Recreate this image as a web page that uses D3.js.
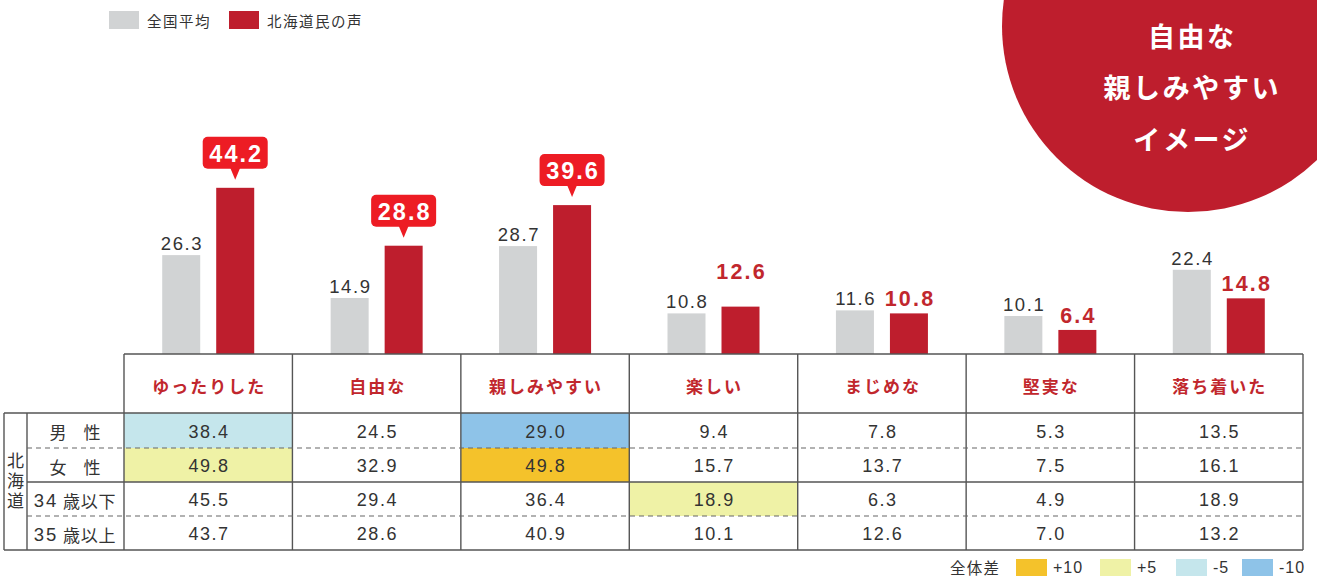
<!DOCTYPE html>
<html><head><meta charset="utf-8">
<script src="https://cdn.jsdelivr.net/npm/d3@7"></script>
<style>
html,body{margin:0;padding:0;background:#fff;}
svg{display:block;}
</style></head>
<body><svg id="chart" width="1317" height="578"></svg>
<script>
const categories = ['ゆったりした','自由な','親しみやすい','楽しい','まじめな','堅実な','落ち着いた'];
const seriesNames = ['全国平均','北海道民の声'];
const national = [26.3,14.9,28.7,10.8,11.6,10.1,22.4];
const hokkaido = [44.2,28.8,39.6,12.6,10.8,6.4,14.8];
const rowLabels = ['男　性','女　性','34 歳以下','35 歳以上'];
const groupLabel = '北海道';
const male = [38.4,24.5,29.0,9.4,7.8,5.3,13.5];
const female = [49.8,32.9,49.8,15.7,13.7,7.5,16.1];
const under34 = [45.5,29.4,36.4,18.9,6.3,4.9,18.9];
const over35 = [43.7,28.6,40.9,10.1,12.6,7.0,13.2];
const diffLabels = ['+10','+5','-5','-10'];
const diffThresholds = [10,5,-5,-10];
const badgeLines = ['自由な','親しみやすい','イメージ'];

const C = {grey:'#d1d3d4', red:'#be1e2d', callout:'#ed1c24', redText:'#c1272d', text:'#333',
  line:'#555', diff:['#f4c22b','#eff2a6','#c5e6ec','#8ec3e8']};
const JP = '"Noto Sans CJK JP", "Noto Sans", sans-serif';
const NUM = '"Liberation Sans", Arial, sans-serif';

const svg = d3.select('#chart');

function numText(sel, size, ls, bold){
  return sel.attr('font-family',NUM).attr('font-size',size).attr('letter-spacing',ls)
    .attr('dx',ls/2).attr('font-weight',bold?700:400);
}

// badge circle
svg.append('circle').attr('cx',1188).attr('cy',26).attr('r',186).attr('fill',C.red);
svg.append('g').selectAll('text').data(badgeLines).join('text')
  .attr('x',1191).attr('y',(d,i)=>35+i*51.5)
  .attr('text-anchor','middle').attr('dominant-baseline','central')
  .attr('fill','#fff').attr('font-family',JP).attr('font-weight',700)
  .attr('font-size',27).attr('letter-spacing',2.6).attr('dx',1.3).text(d=>d);

// top legend
const lg = svg.append('g');
const legendX = [109,229];
seriesNames.forEach((s,i)=>{
  lg.append('rect').attr('x',legendX[i]).attr('y',11).attr('width',30).attr('height',18)
    .attr('fill',i===0?C.grey:C.red);
  lg.append('text').attr('x',legendX[i]+38).attr('y',20).attr('dominant-baseline','central')
    .attr('font-family',JP).attr('font-size',14.5).attr('letter-spacing',1.5).attr('fill',C.text).text(s);
});

// scales
const x = d3.scaleBand().domain(categories).range([124,1303]).paddingInner(0).paddingOuter(0);
const bw = x.bandwidth();
const xs = d3.scaleBand().domain(seriesNames).range([bw/2-46, bw/2+46]).paddingInner(0.2963).paddingOuter(0);
const y = d3.scaleLinear().domain([0,50]).range([354,166]);

const data = categories.map((c,i)=>({cat:c, nat:national[i], hok:hokkaido[i]}));

// bars
const bars = svg.append('g');
data.forEach(d=>{
  bars.append('rect').attr('x',x(d.cat)+xs(seriesNames[0])).attr('y',y(d.nat))
    .attr('width',xs.bandwidth()).attr('height',y(0)-y(d.nat)).attr('fill',C.grey);
  bars.append('rect').attr('x',x(d.cat)+xs(seriesNames[1])).attr('y',y(d.hok))
    .attr('width',xs.bandwidth()).attr('height',y(0)-y(d.hok)).attr('fill',C.red);
});

const fmt = d3.format('.1f');
// labels
const lab = svg.append('g');
data.forEach(d=>{
  const gx = x(d.cat)+xs(seriesNames[0])+xs.bandwidth()/2;
  const rx = x(d.cat)+xs(seriesNames[1])+xs.bandwidth()/2;
  numText(lab.append('text').attr('x',gx).attr('y',y(d.nat)-5).attr('text-anchor','middle'),18.5,1.6,false)
    .attr('fill',C.text).text(fmt(d.nat));
  const diff = d.hok - d.nat;
  if (diff >= 5) {
    const top = y(d.hok);
    const bw2 = 65, bh = 32, bb = top-19;
    const g = lab.append('g');
    g.append('rect').attr('x',rx-bw2/2).attr('y',bb-bh).attr('width',bw2).attr('height',bh)
      .attr('rx',5).attr('fill',C.callout);
    g.append('path').attr('d',`M${rx-5},${bb-1}L${rx+5},${bb-1}L${rx},${top-8}Z`).attr('fill',C.callout);
    numText(g.append('text').attr('x',rx).attr('y',bb-bh/2+1).attr('text-anchor','middle')
      .attr('dominant-baseline','central'),23.5,2,true).attr('fill','#fff').text(fmt(d.hok));
  } else {
    const lift = diff > 0 ? 28 : 7;
    numText(lab.append('text').attr('x',rx).attr('y',y(d.hok)-lift).attr('text-anchor','middle'),21.5,2.2,true)
      .attr('fill',C.redText).text(fmt(d.hok));
  }
});

// table
const rows = [male, female, under34, over35];
const rowTop = [413,448,482,516], rowBot = [448,482,516,550];
const tbl = svg.append('g');
function diffColor(v, base){
  const dd = v - base;
  if (dd >= diffThresholds[0]) return C.diff[0];
  if (dd >= diffThresholds[1]) return C.diff[1];
  if (dd <= diffThresholds[3]) return C.diff[3];
  if (dd <= diffThresholds[2]) return C.diff[2];
  return null;
}
rows.forEach((r,ri)=>{
  categories.forEach((c,ci)=>{
    const col = diffColor(r[ci], hokkaido[ci]);
    if (col) tbl.append('rect').attr('x',x(c)).attr('y',rowTop[ri]).attr('width',bw)
      .attr('height',rowBot[ri]-rowTop[ri]).attr('fill',col);
    numText(tbl.append('text').attr('x',x(c)+bw/2).attr('y',(rowTop[ri]+rowBot[ri])/2+1)
      .attr('text-anchor','middle').attr('dominant-baseline','central'),18,1.5,false)
      .attr('fill',C.text).text(fmt(r[ci]));
  });
  const t = tbl.append('text').attr('x',75).attr('y',(rowTop[ri]+rowBot[ri])/2+1)
    .attr('text-anchor','middle').attr('dominant-baseline','central')
    .attr('font-family',JP).attr('font-size',17).attr('fill',C.text);
  const lbl = rowLabels[ri];
  const m = lbl.match(/^(\d+)(.*)$/);
  if (m) {
    t.append('tspan').attr('font-family',NUM).attr('font-size',18.5).attr('letter-spacing',2).text(m[1]);
    t.append('tspan').attr('letter-spacing',0.8).text(m[2]);
  } else t.text(lbl);
});
tbl.append('text').attr('x',15.5).attr('y',482)
  .attr('text-anchor','middle').attr('dominant-baseline','central')
  .attr('writing-mode','vertical-rl').attr('style','writing-mode:vertical-rl')
  .attr('font-family',JP).attr('font-size',17).attr('letter-spacing',3)
  .attr('fill',C.text).text(groupLabel);
// header labels
categories.forEach(c=>{
  tbl.append('text').attr('x',x(c)+bw/2+1).attr('y',385).attr('text-anchor','middle')
    .attr('dominant-baseline','central').attr('font-family',JP).attr('font-weight',700)
    .attr('font-size',17).attr('letter-spacing',2).attr('fill',C.redText).text(c);
});

// grid lines
const ln = svg.append('g').attr('stroke',C.line).attr('stroke-width',1.4).attr('fill','none');
const bounds = categories.map(c=>x(c)).concat([x.range()[1]]);
bounds.forEach(b=>ln.append('line').attr('x1',b).attr('x2',b).attr('y1',354).attr('y2',550));
ln.append('line').attr('x1',124).attr('x2',1303).attr('y1',354).attr('y2',354);
ln.append('line').attr('x1',4).attr('x2',1303).attr('y1',413).attr('y2',413);
ln.append('line').attr('x1',27).attr('x2',1303).attr('y1',482).attr('y2',482);
ln.append('line').attr('x1',4).attr('x2',1303).attr('y1',550).attr('y2',550);
ln.append('line').attr('x1',4).attr('x2',4).attr('y1',413).attr('y2',550);
ln.append('line').attr('x1',27).attr('x2',27).attr('y1',413).attr('y2',550);
[448,516].forEach(yy=>ln.append('line').attr('x1',27).attr('x2',1303).attr('y1',yy).attr('y2',yy)
  .attr('stroke','#666').attr('stroke-width',1.2).attr('stroke-dasharray','5,4'));

// bottom legend
const bl = svg.append('g');
bl.append('text').attr('x',950).attr('y',567).attr('dominant-baseline','central')
  .attr('font-family',JP).attr('font-size',15.5).attr('letter-spacing',1.2).attr('fill',C.text).text('全体差');
const swX = [1016,1100,1176,1242];
diffLabels.forEach((t,i)=>{
  bl.append('rect').attr('x',swX[i]).attr('y',559).attr('width',31).attr('height',17).attr('fill',C.diff[i]);
  bl.append('text').attr('x',swX[i]+37).attr('y',567).attr('dominant-baseline','central')
    .attr('font-family',NUM).attr('font-size',16).attr('letter-spacing',1).attr('fill',C.text).text(t);
});
</script></body></html>
